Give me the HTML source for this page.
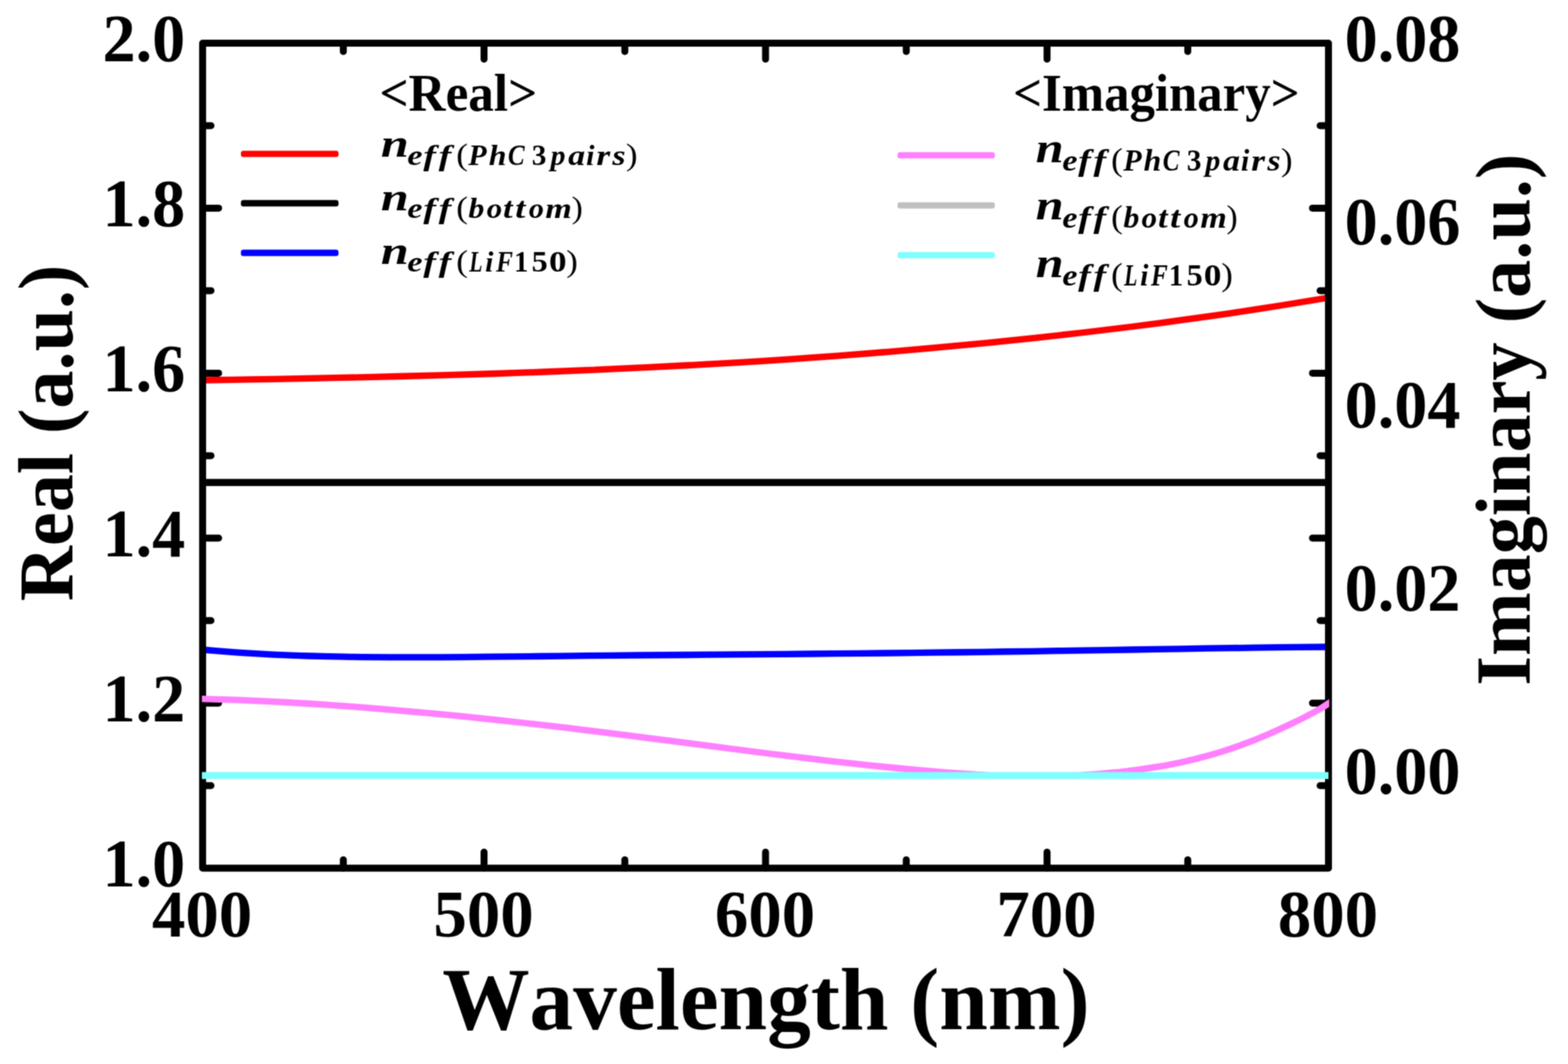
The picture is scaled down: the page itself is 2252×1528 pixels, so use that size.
<!DOCTYPE html>
<html lang="en"><head><meta charset="utf-8">
<title>Effective refractive index: real and imaginary parts vs wavelength</title>
<style>
html,body{margin:0;padding:0;background:#fff;}
body{width:2252px;height:1528px;overflow:hidden;}
svg{display:block;}
text{font-family:"Liberation Serif", "DejaVu Serif", serif;font-weight:bold;fill:#000;font-kerning:none;}
.tick{font-size:95px;}
.btick{font-size:96px;}
.leg-title{font-size:73.5px;}
.mi{font-style:italic;font-size:57.7px;}
.si{font-style:italic;font-size:42px;}
.sd{font-size:42px;}
.sp{font-weight:normal;font-size:43.5px;}
.curve{fill:none;stroke-width:9.3;stroke-linejoin:round;}
</style></head><body>
<svg width="2252" height="1528" viewBox="0 0 2252 1528">
<defs><filter id="soft" x="0" y="0" width="2252" height="1528" filterUnits="userSpaceOnUse" color-interpolation-filters="sRGB"><feConvolveMatrix order="3" kernelMatrix="1 2 1 2 4 2 1 2 1" divisor="16" edgeMode="duplicate" preserveAlpha="false"/></filter></defs>
<g filter="url(#soft)">
<rect x="0" y="0" width="2252" height="1528" fill="#ffffff"/>
<g id="real-curves">
<path class="curve" stroke="#ff0000" d="M291.0 546.0 C302.7 545.8 337.9 545.3 361.3 544.9 C384.7 544.5 408.2 544.1 431.6 543.6 C455.0 543.2 478.5 542.7 501.9 542.2 C525.3 541.7 548.8 541.1 572.2 540.5 C595.7 540.0 619.1 539.3 642.5 538.6 C666.0 538.0 689.4 537.2 712.8 536.5 C736.3 535.7 759.7 534.8 783.1 534.0 C806.6 533.1 830.0 532.1 853.4 531.1 C876.9 530.1 900.3 529.1 923.7 527.9 C947.2 526.8 970.6 525.6 994.0 524.3 C1017.5 523.0 1040.9 521.7 1064.3 520.3 C1087.8 518.9 1111.2 517.4 1134.7 515.8 C1158.1 514.2 1181.5 512.5 1205.0 510.8 C1228.4 509.1 1251.8 507.2 1275.3 505.3 C1298.7 503.4 1322.1 501.4 1345.6 499.2 C1369.0 497.1 1392.4 494.9 1415.9 492.6 C1439.3 490.3 1462.7 487.9 1486.2 485.4 C1509.6 482.9 1533.0 480.2 1556.5 477.5 C1579.9 474.8 1603.3 471.9 1626.8 469.0 C1650.2 466.0 1673.7 462.9 1697.1 459.7 C1720.5 456.5 1744.0 453.2 1767.4 449.8 C1790.8 446.3 1814.3 442.7 1837.7 439.0 C1861.1 435.3 1896.3 429.4 1908.0 427.5"/>
<line x1="291.0" y1="692.9" x2="1908.0" y2="692.9" stroke="#000" stroke-width="10.4"/>
<path class="curve" stroke="#0000ff" d="M291.0 933.0 C295.2 933.4 308.0 934.5 316.4 935.2 C324.9 935.9 333.4 936.5 341.9 937.1 C350.4 937.7 358.9 938.2 367.3 938.7 C375.8 939.2 384.3 939.6 392.8 940.1 C401.3 940.5 409.7 940.8 418.2 941.1 C426.7 941.5 435.2 941.8 443.7 942.0 C452.1 942.3 460.6 942.5 469.1 942.7 C477.6 942.9 486.1 943.1 494.6 943.2 C503.0 943.3 509.1 943.4 520.0 943.6 C530.9 943.7 541.5 943.8 560.0 943.8 C578.5 943.9 607.3 943.9 630.9 943.8 C654.6 943.7 678.2 943.4 701.9 943.2 C725.5 943.0 749.2 942.7 772.8 942.5 C796.5 942.2 820.1 942.0 843.8 941.7 C867.4 941.5 891.1 941.3 914.7 941.0 C938.4 940.8 962.0 940.7 985.7 940.5 C1009.3 940.3 1033.0 940.1 1056.6 939.9 C1080.3 939.7 1103.9 939.6 1127.6 939.3 C1151.2 939.1 1174.9 938.9 1198.5 938.7 C1222.2 938.5 1245.8 938.2 1269.5 938.0 C1293.1 937.7 1316.8 937.4 1340.4 937.2 C1364.1 936.9 1387.7 936.6 1411.4 936.3 C1435.0 935.9 1458.7 935.6 1482.3 935.3 C1506.0 934.9 1529.6 934.5 1553.3 934.2 C1576.9 933.8 1600.6 933.4 1624.2 933.0 C1647.9 932.6 1671.5 932.2 1695.2 931.8 C1718.8 931.4 1742.5 931.0 1766.1 930.7 C1789.8 930.3 1813.4 930.0 1837.1 929.7 C1860.7 929.4 1896.2 929.1 1908.0 929.0"/>
</g>
<g id="axes" stroke="#000" stroke-width="10.0" fill="none" stroke-linecap="butt" stroke-linejoin="round">
<rect x="291.0" y="62.0" width="1617.0" height="1184.7"/>
<g id="ticks" stroke-linecap="round">
<line x1="493.1" y1="62.0" x2="493.1" y2="74.0"/>
<line x1="493.1" y1="1246.7" x2="493.1" y2="1234.7"/>
<line x1="695.2" y1="62.0" x2="695.2" y2="85.0"/>
<line x1="695.2" y1="1246.7" x2="695.2" y2="1223.7"/>
<line x1="897.4" y1="62.0" x2="897.4" y2="74.0"/>
<line x1="897.4" y1="1246.7" x2="897.4" y2="1234.7"/>
<line x1="1099.5" y1="62.0" x2="1099.5" y2="85.0"/>
<line x1="1099.5" y1="1246.7" x2="1099.5" y2="1223.7"/>
<line x1="1301.6" y1="62.0" x2="1301.6" y2="74.0"/>
<line x1="1301.6" y1="1246.7" x2="1301.6" y2="1234.7"/>
<line x1="1503.8" y1="62.0" x2="1503.8" y2="85.0"/>
<line x1="1503.8" y1="1246.7" x2="1503.8" y2="1223.7"/>
<line x1="1705.9" y1="62.0" x2="1705.9" y2="74.0"/>
<line x1="1705.9" y1="1246.7" x2="1705.9" y2="1234.7"/>
<line x1="291.0" y1="1128.2" x2="303.0" y2="1128.2"/>
<line x1="1908.0" y1="1128.2" x2="1896.0" y2="1128.2"/>
<line x1="291.0" y1="1009.8" x2="314.0" y2="1009.8"/>
<line x1="1908.0" y1="1009.8" x2="1885.0" y2="1009.8"/>
<line x1="291.0" y1="891.3" x2="303.0" y2="891.3"/>
<line x1="1908.0" y1="891.3" x2="1896.0" y2="891.3"/>
<line x1="291.0" y1="772.8" x2="314.0" y2="772.8"/>
<line x1="1908.0" y1="772.8" x2="1885.0" y2="772.8"/>
<line x1="291.0" y1="654.4" x2="303.0" y2="654.4"/>
<line x1="1908.0" y1="654.4" x2="1896.0" y2="654.4"/>
<line x1="291.0" y1="535.9" x2="314.0" y2="535.9"/>
<line x1="1908.0" y1="535.9" x2="1885.0" y2="535.9"/>
<line x1="291.0" y1="417.4" x2="303.0" y2="417.4"/>
<line x1="1908.0" y1="417.4" x2="1896.0" y2="417.4"/>
<line x1="291.0" y1="298.9" x2="314.0" y2="298.9"/>
<line x1="1908.0" y1="298.9" x2="1885.0" y2="298.9"/>
<line x1="291.0" y1="180.5" x2="303.0" y2="180.5"/>
<line x1="1908.0" y1="180.5" x2="1896.0" y2="180.5"/>
</g>
</g>
<clipPath id="imagclip"><rect x="290" y="0" width="1619" height="1528"/></clipPath>
<g id="imag-curves" clip-path="url(#imagclip)">
<path class="curve" stroke="#ff80ff" d="M286.0 1003.4 C295.8 1003.7 325.1 1004.6 344.6 1005.4 C364.2 1006.2 383.7 1007.1 403.3 1008.2 C422.8 1009.2 442.4 1010.4 461.9 1011.7 C481.4 1013.0 501.0 1014.4 520.5 1015.9 C540.1 1017.4 559.6 1019.1 579.2 1020.8 C598.7 1022.5 618.2 1024.3 637.8 1026.2 C657.3 1028.1 676.9 1030.0 696.4 1032.1 C716.0 1034.1 735.5 1036.3 755.1 1038.5 C774.6 1040.7 794.1 1042.9 813.7 1045.2 C833.2 1047.6 852.8 1049.9 872.3 1052.4 C891.9 1054.8 911.4 1057.3 930.9 1059.8 C950.5 1062.3 970.0 1064.8 989.6 1067.4 C1009.1 1069.9 1028.7 1072.5 1048.2 1075.0 C1067.8 1077.5 1087.3 1080.0 1106.8 1082.5 C1126.4 1084.9 1145.9 1087.3 1165.5 1089.7 C1185.0 1092.0 1204.6 1094.3 1224.1 1096.4 C1243.6 1098.6 1263.2 1100.6 1282.7 1102.5 C1302.3 1104.5 1321.8 1106.3 1341.4 1107.9 C1360.9 1109.5 1388.6 1111.4 1400.0 1112.2 C1411.4 1113.1 1403.8 1112.5 1410.0 1112.8 C1416.2 1113.1 1428.1 1113.7 1437.1 1113.9 C1446.2 1114.1 1455.2 1113.9 1464.3 1113.9 C1473.3 1113.9 1482.4 1113.9 1491.4 1113.9 C1500.5 1113.9 1509.5 1114.0 1518.6 1113.9 C1527.6 1113.8 1536.7 1113.8 1545.7 1113.5 C1554.8 1113.2 1563.8 1112.5 1572.9 1111.8 C1581.9 1111.2 1592.1 1110.3 1600.0 1109.5 C1607.9 1108.8 1613.4 1108.1 1620.0 1107.3 C1626.6 1106.5 1633.2 1105.7 1639.7 1104.7 C1646.3 1103.8 1652.9 1102.8 1659.5 1101.7 C1666.0 1100.6 1672.6 1099.5 1679.2 1098.2 C1685.8 1097.0 1692.4 1095.6 1698.9 1094.2 C1705.5 1092.7 1712.1 1091.2 1718.7 1089.5 C1725.2 1087.9 1731.8 1086.1 1738.4 1084.3 C1745.0 1082.4 1751.6 1080.5 1758.1 1078.4 C1764.7 1076.3 1771.3 1074.1 1777.9 1071.7 C1784.4 1069.4 1791.0 1066.9 1797.6 1064.4 C1804.2 1061.8 1810.8 1059.1 1817.3 1056.3 C1823.9 1053.5 1830.5 1050.5 1837.1 1047.5 C1843.6 1044.5 1850.2 1041.5 1856.8 1038.3 C1863.4 1035.2 1870.0 1032.0 1876.5 1028.5 C1883.1 1025.1 1889.7 1021.7 1896.3 1017.8 C1902.8 1013.8 1912.7 1007.1 1916.0 1005.0"/>
<line x1="290" y1="1113.7" x2="1908.0" y2="1113.7" stroke="#80ffff" stroke-width="10"/>
</g>
<g id="left-ticks" class="tick" text-anchor="end">
<text transform="translate(266.0 1272.9) scale(1 1.03)">1.0</text>
<text transform="translate(266.0 1036.0) scale(1 1.03)">1.2</text>
<text transform="translate(266.0 799.0) scale(1 1.03)">1.4</text>
<text transform="translate(266.0 562.1) scale(1 1.03)">1.6</text>
<text transform="translate(266.0 325.1) scale(1 1.03)">1.8</text>
<text transform="translate(266.0 88.2) scale(1 1.03)">2.0</text>
</g>
<g id="right-ticks" class="tick" text-anchor="start">
<text transform="translate(1931.2 1139.8) scale(1 1.03)">0.00</text>
<text transform="translate(1931.2 876.9) scale(1 1.03)">0.02</text>
<text transform="translate(1931.2 614.1) scale(1 1.03)">0.04</text>
<text transform="translate(1931.2 351.2) scale(1 1.03)">0.06</text>
<text transform="translate(1931.2 88.4) scale(1 1.03)">0.08</text>
</g>
<g id="bottom-ticks" class="btick" text-anchor="middle">
<text x="290.2" y="1345.0">400</text>
<text x="694.5" y="1345.0">500</text>
<text x="1098.8" y="1345.0">600</text>
<text x="1503.0" y="1345.0">700</text>
<text x="1907.2" y="1345.0">800</text>
</g>
<text id="xlabel" transform="translate(1100.1 1478.4) scale(1 1.02)" font-size="125.4" text-anchor="middle">Wavelength (nm)</text>
<text id="ylabel" transform="translate(103.8 621.6) rotate(-90) scale(1 1.035)" font-size="109.4" text-anchor="middle">Real (a.u.)</text>
<text id="y2label" transform="translate(2196.5 602.7) rotate(-90) scale(1 1.015)" font-size="109.6" text-anchor="middle">Imaginary (a.u.)</text>
<g id="legend-real">
<text class="leg-title" transform="translate(545 158.6) scale(1 1.035)">&lt;Real&gt;</text>
<rect x="346.0" y="216.4" width="140.2" height="9.2" rx="3.5" fill="#ff0000"/>
<rect x="346.0" y="287.3" width="140.2" height="9.2" rx="3.5" fill="#000000"/>
<rect x="346.0" y="358.6" width="140.2" height="9.2" rx="3.5" fill="#0000ff"/>
<text class="legend-label" transform="translate(548.5 225.4)"><tspan class="mi" x="-1.5" y="0" textLength="40.1" lengthAdjust="spacingAndGlyphs">n</tspan><tspan class="si" y="11.2" x="36.6" textLength="21.8" lengthAdjust="spacingAndGlyphs">e</tspan><tspan class="si" x="59.4" textLength="18.2" lengthAdjust="spacingAndGlyphs">f</tspan><tspan class="si" x="81.4" textLength="18.2" lengthAdjust="spacingAndGlyphs">f</tspan><tspan class="sp" x="106.7" textLength="16.9" lengthAdjust="spacingAndGlyphs">(</tspan><tspan class="si" x="124.1" textLength="26.4" lengthAdjust="spacingAndGlyphs">P</tspan><tspan class="si" x="153.5" textLength="25.4" lengthAdjust="spacingAndGlyphs">h</tspan><tspan class="si" x="181.0" textLength="24.0" lengthAdjust="spacingAndGlyphs">C</tspan><tspan class="sd" x="204.8 215.3"> 3</tspan><tspan class="si" x="242.2" textLength="21.4" lengthAdjust="spacingAndGlyphs">p</tspan><tspan class="si" x="267.5" textLength="24.4" lengthAdjust="spacingAndGlyphs">a</tspan><tspan class="si" x="293.2" textLength="12.0" lengthAdjust="spacingAndGlyphs">i</tspan><tspan class="si" x="308.0" textLength="19.9" lengthAdjust="spacingAndGlyphs">r</tspan><tspan class="si" x="331.1" textLength="19.0" lengthAdjust="spacingAndGlyphs">s</tspan><tspan class="sp" x="350.6" textLength="16.7" lengthAdjust="spacingAndGlyphs">)</tspan></text>
<text class="legend-label" transform="translate(548.5 301.8)"><tspan class="mi" x="-1.5" y="0" textLength="40.1" lengthAdjust="spacingAndGlyphs">n</tspan><tspan class="si" y="11.2" x="36.6" textLength="21.8" lengthAdjust="spacingAndGlyphs">e</tspan><tspan class="si" x="59.4" textLength="18.2" lengthAdjust="spacingAndGlyphs">f</tspan><tspan class="si" x="81.4" textLength="18.2" lengthAdjust="spacingAndGlyphs">f</tspan><tspan class="sp" x="106.7" textLength="16.9" lengthAdjust="spacingAndGlyphs">(</tspan><tspan class="si" x="124.3" textLength="22.9" lengthAdjust="spacingAndGlyphs">b</tspan><tspan class="si" x="150.4" textLength="22.3" lengthAdjust="spacingAndGlyphs">o</tspan><tspan class="si" x="174.1" textLength="13.7" lengthAdjust="spacingAndGlyphs">t</tspan><tspan class="si" x="191.4" textLength="14.5" lengthAdjust="spacingAndGlyphs">t</tspan><tspan class="si" x="211.0" textLength="21.7" lengthAdjust="spacingAndGlyphs">o</tspan><tspan class="si" x="234.8" textLength="38.0" lengthAdjust="spacingAndGlyphs">m</tspan><tspan class="sp" x="272.4" textLength="16.1" lengthAdjust="spacingAndGlyphs">)</tspan></text>
<text class="legend-label" transform="translate(548.5 378.8)"><tspan class="mi" x="-1.5" y="0" textLength="40.1" lengthAdjust="spacingAndGlyphs">n</tspan><tspan class="si" y="11.2" x="36.6" textLength="21.8" lengthAdjust="spacingAndGlyphs">e</tspan><tspan class="si" x="59.4" textLength="18.2" lengthAdjust="spacingAndGlyphs">f</tspan><tspan class="si" x="81.4" textLength="18.2" lengthAdjust="spacingAndGlyphs">f</tspan><tspan class="sp" x="106.7" textLength="16.9" lengthAdjust="spacingAndGlyphs">(</tspan><tspan class="si" x="125.5" textLength="19.0" lengthAdjust="spacingAndGlyphs">L</tspan><tspan class="si" x="148.3" textLength="11.9" lengthAdjust="spacingAndGlyphs">i</tspan><tspan class="si" x="164.0" textLength="24.2" lengthAdjust="spacingAndGlyphs">F</tspan><tspan class="sd" x="189.7" textLength="20.5" lengthAdjust="spacingAndGlyphs">1</tspan><tspan class="sd" x="215.1" textLength="23.1" lengthAdjust="spacingAndGlyphs">5</tspan><tspan class="sd" x="240.0" textLength="25.2" lengthAdjust="spacingAndGlyphs">0</tspan><tspan class="sp" x="264.8" textLength="16.7" lengthAdjust="spacingAndGlyphs">)</tspan></text>
</g>
<g id="legend-imag">
<text class="leg-title" style="font-size:73px" transform="translate(1455 158.6) scale(1 1.035)">&lt;Imaginary&gt;</text>
<rect x="1289.0" y="218.4" width="139.8" height="9.2" rx="3.5" fill="#ff80ff"/>
<rect x="1289.0" y="290.4" width="139.8" height="9.2" rx="3.5" fill="#c0c0c0"/>
<rect x="1289.0" y="361.9" width="139.8" height="9.2" rx="3.5" fill="#80ffff"/>
<text class="legend-label" transform="translate(1489.1 233.1) scale(1 1.077)"><tspan class="mi" x="-1.5" y="0" textLength="40.1" lengthAdjust="spacingAndGlyphs">n</tspan><tspan class="si" y="11.2" x="36.6" textLength="21.8" lengthAdjust="spacingAndGlyphs">e</tspan><tspan class="si" x="59.4" textLength="18.2" lengthAdjust="spacingAndGlyphs">f</tspan><tspan class="si" x="81.4" textLength="18.2" lengthAdjust="spacingAndGlyphs">f</tspan><tspan class="sp" x="106.7" textLength="16.9" lengthAdjust="spacingAndGlyphs">(</tspan><tspan class="si" x="124.1" textLength="26.4" lengthAdjust="spacingAndGlyphs">P</tspan><tspan class="si" x="153.5" textLength="25.4" lengthAdjust="spacingAndGlyphs">h</tspan><tspan class="si" x="181.0" textLength="24.0" lengthAdjust="spacingAndGlyphs">C</tspan><tspan class="sd" x="204.8 215.3"> 3</tspan><tspan class="si" x="242.2" textLength="21.4" lengthAdjust="spacingAndGlyphs">p</tspan><tspan class="si" x="267.5" textLength="24.4" lengthAdjust="spacingAndGlyphs">a</tspan><tspan class="si" x="293.2" textLength="12.0" lengthAdjust="spacingAndGlyphs">i</tspan><tspan class="si" x="308.0" textLength="19.9" lengthAdjust="spacingAndGlyphs">r</tspan><tspan class="si" x="331.1" textLength="19.0" lengthAdjust="spacingAndGlyphs">s</tspan><tspan class="sp" x="350.6" textLength="16.7" lengthAdjust="spacingAndGlyphs">)</tspan></text>
<text class="legend-label" transform="translate(1489.1 315.4) scale(1 1.077)"><tspan class="mi" x="-1.5" y="0" textLength="40.1" lengthAdjust="spacingAndGlyphs">n</tspan><tspan class="si" y="11.2" x="36.6" textLength="21.8" lengthAdjust="spacingAndGlyphs">e</tspan><tspan class="si" x="59.4" textLength="18.2" lengthAdjust="spacingAndGlyphs">f</tspan><tspan class="si" x="81.4" textLength="18.2" lengthAdjust="spacingAndGlyphs">f</tspan><tspan class="sp" x="106.7" textLength="16.9" lengthAdjust="spacingAndGlyphs">(</tspan><tspan class="si" x="124.3" textLength="22.9" lengthAdjust="spacingAndGlyphs">b</tspan><tspan class="si" x="150.4" textLength="22.3" lengthAdjust="spacingAndGlyphs">o</tspan><tspan class="si" x="174.1" textLength="13.7" lengthAdjust="spacingAndGlyphs">t</tspan><tspan class="si" x="191.4" textLength="14.5" lengthAdjust="spacingAndGlyphs">t</tspan><tspan class="si" x="211.0" textLength="21.7" lengthAdjust="spacingAndGlyphs">o</tspan><tspan class="si" x="234.8" textLength="38.0" lengthAdjust="spacingAndGlyphs">m</tspan><tspan class="sp" x="272.4" textLength="16.1" lengthAdjust="spacingAndGlyphs">)</tspan></text>
<text class="legend-label" transform="translate(1489.1 398.3) scale(1 1.077)"><tspan class="mi" x="-1.5" y="0" textLength="40.1" lengthAdjust="spacingAndGlyphs">n</tspan><tspan class="si" y="11.2" x="36.6" textLength="21.8" lengthAdjust="spacingAndGlyphs">e</tspan><tspan class="si" x="59.4" textLength="18.2" lengthAdjust="spacingAndGlyphs">f</tspan><tspan class="si" x="81.4" textLength="18.2" lengthAdjust="spacingAndGlyphs">f</tspan><tspan class="sp" x="106.7" textLength="16.9" lengthAdjust="spacingAndGlyphs">(</tspan><tspan class="si" x="125.5" textLength="19.0" lengthAdjust="spacingAndGlyphs">L</tspan><tspan class="si" x="148.3" textLength="11.9" lengthAdjust="spacingAndGlyphs">i</tspan><tspan class="si" x="164.0" textLength="24.2" lengthAdjust="spacingAndGlyphs">F</tspan><tspan class="sd" x="189.7" textLength="20.5" lengthAdjust="spacingAndGlyphs">1</tspan><tspan class="sd" x="215.1" textLength="23.1" lengthAdjust="spacingAndGlyphs">5</tspan><tspan class="sd" x="240.0" textLength="25.2" lengthAdjust="spacingAndGlyphs">0</tspan><tspan class="sp" x="264.8" textLength="16.7" lengthAdjust="spacingAndGlyphs">)</tspan></text>
</g>
</g>
</svg>
</body></html>
